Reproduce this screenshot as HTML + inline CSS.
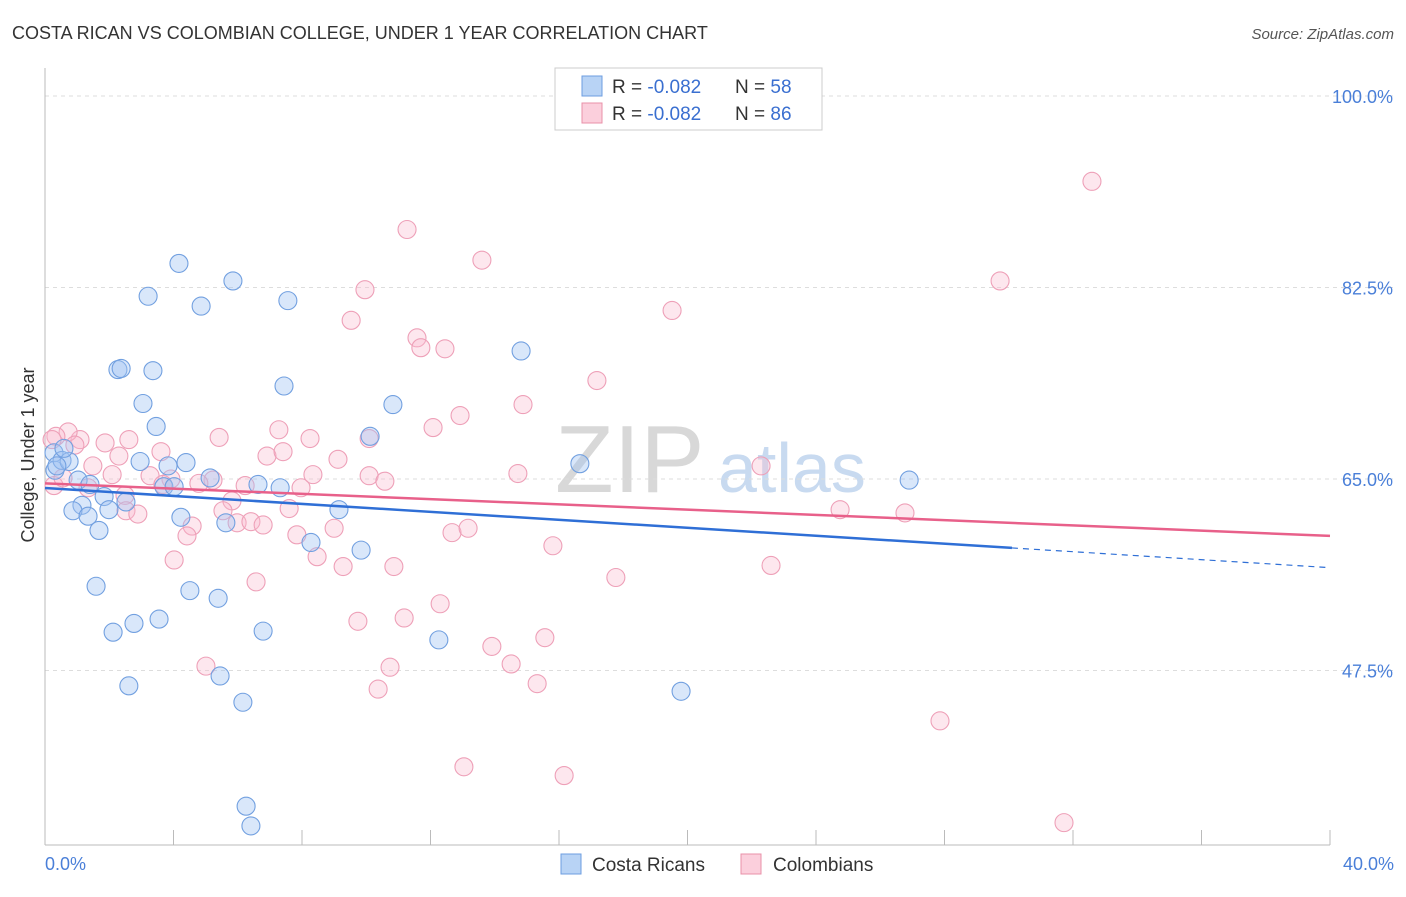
<!DOCTYPE html>
<html><head><meta charset="utf-8"><style>
body{margin:0;background:#fff;font-family:"Liberation Sans",sans-serif;}
svg text{font-family:"Liberation Sans",sans-serif;}
</style></head><body>
<svg id="chart" width="1406" height="892">
<text x="12" y="39" font-size="18" fill="#333">COSTA RICAN VS COLOMBIAN COLLEGE, UNDER 1 YEAR CORRELATION CHART</text>
<text x="1394" y="39" font-size="15" fill="#555" font-style="italic" text-anchor="end">Source: ZipAtlas.com</text>
<text x="555" y="492" font-size="96" fill="#d8d8d8" font-family="Liberation Serif,serif">ZIP</text>
<text x="718" y="492" font-size="70" fill="#c8daf0">atlas</text>
<g id="grid"></g>
<line x1="45" y1="68" x2="45" y2="845" stroke="#bbb"/>
<line x1="45" y1="845" x2="1330" y2="845" stroke="#bbb"/>
<text x="34" y="455" font-size="18" fill="#333" text-anchor="middle" transform="rotate(-90 34 455)">College, Under 1 year</text>
<text x="45" y="870" font-size="18" fill="#4a7fd8">0.0%</text>
<text x="1394" y="870" font-size="18" fill="#4a7fd8" text-anchor="end">40.0%</text>
<g id="pts"></g>
<g id="trends"></g>
<g>
<rect x="555" y="68" width="267" height="62" fill="#fff" stroke="#ccc"/>
<rect x="582" y="76" width="20" height="20" fill="#b8d3f5" stroke="#6d9ee0"/>
<text x="612" y="93" font-size="19" fill="#333">R = <tspan fill="#3a6fd0">-0.082</tspan></text>
<text x="735" y="93" font-size="19" fill="#333">N = <tspan fill="#3a6fd0">58</tspan></text>
<rect x="582" y="103" width="20" height="20" fill="#fbcfdc" stroke="#e890a8"/>
<text x="612" y="120" font-size="19" fill="#333">R = <tspan fill="#3a6fd0">-0.082</tspan></text>
<text x="735" y="120" font-size="19" fill="#333">N = <tspan fill="#3a6fd0">86</tspan></text>
</g>
<g>
<rect x="561" y="854" width="20" height="20" fill="#b8d3f5" stroke="#6d9ee0"/>
<text x="592" y="871" font-size="19" fill="#333">Costa Ricans</text>
<rect x="741" y="854" width="20" height="20" fill="#fbcfdc" stroke="#e890a8"/>
<text x="773" y="871" font-size="19" fill="#333">Colombians</text>
</g>
</svg>
<script>
const yTicks=[100,82.5,65,47.5];
const blueX=[4.17,5.85,3.21,4.86,7.56,2.27,2.37,3.36,7.44,3.05,3.46,10.83,10.12,14.82,16.65,26.9,0.28,0.31,0.53,0.75,0.59,1.03,1.40,3.83,4.39,5.14,2.96,3.70,1.84,2.52,1.15,0.87,1.34,1.99,1.68,4.23,5.63,6.63,7.32,9.15,8.28,9.84,1.59,4.51,5.39,2.12,2.77,3.55,6.79,12.26,2.61,5.45,6.16,19.8,6.26,6.41,4.02,0.37];
const blueY=[84.7,83.1,81.7,80.8,81.3,75.0,75.1,74.9,73.5,71.9,69.8,71.8,68.9,76.7,66.4,64.9,67.4,65.8,66.7,66.6,67.8,64.9,64.5,66.2,66.5,65.1,66.6,64.3,63.4,62.9,62.6,62.1,61.6,62.2,60.3,61.5,61.0,64.5,64.2,62.2,59.2,58.5,55.2,54.8,54.1,51.0,51.8,52.2,51.1,50.3,46.1,47.0,44.6,45.6,35.1,33.3,64.3,66.2];
const pinkX=[32.59,11.27,13.60,29.73,9.96,19.52,9.53,11.58,11.70,12.45,17.18,14.88,12.92,12.08,5.42,7.28,8.25,10.09,2.61,1.87,1.09,0.72,0.34,0.22,0.93,3.61,2.30,6.91,7.41,9.12,1.49,3.27,3.92,2.09,5.23,6.23,7.97,8.34,10.09,10.58,14.72,22.29,0.28,0.56,1.34,2.49,3.67,4.79,5.82,5.54,7.60,2.52,2.89,4.58,4.42,5.98,6.41,6.79,9.00,7.84,8.47,9.28,10.86,12.67,13.17,15.81,24.75,26.77,4.02,6.57,17.77,22.60,12.30,9.74,11.18,15.56,13.91,14.51,10.74,5.01,10.37,15.32,27.86,13.04,16.16,31.72];
const pinkY=[92.2,87.8,85.0,83.1,82.3,80.4,79.5,77.9,77.0,76.9,74.0,71.8,70.8,69.7,68.8,69.5,68.7,68.7,68.6,68.3,68.6,69.3,68.9,68.6,68.1,67.5,67.1,67.1,67.5,66.8,66.2,65.3,65.0,65.4,64.9,64.4,64.2,65.4,65.3,64.8,65.5,66.2,64.4,65.1,64.2,63.5,64.5,64.6,63.0,62.1,62.3,62.1,61.8,60.7,59.8,61.0,61.1,60.8,60.5,59.9,57.9,57.0,57.0,60.1,60.5,58.9,62.2,61.9,57.6,55.6,56.0,57.1,53.6,52.0,52.3,50.5,49.7,48.1,47.8,47.9,45.8,46.3,42.9,38.7,37.9,33.6];
const blueTrend=[64.18,-0.182];
const pinkTrend=[64.6,-0.12];
const NS='http://www.w3.org/2000/svg';
const X=v=>45+v*32.125, Y=v=>96+(100-v)*10.943;
function mk(tag,attrs,parent){const e=document.createElementNS(NS,tag);for(const k in attrs)e.setAttribute(k,attrs[k]);parent.appendChild(e);return e;}
const grid=document.getElementById('grid');
yTicks.forEach(t=>{
 const l=mk('line',{x1:45,x2:1394,y1:Y(t),y2:Y(t),stroke:'#ddd','stroke-dasharray':'4,4'},grid);
 
 
 const tx=mk('text',{x:1393,y:Y(t)+7,'font-size':18,fill:'#4a7fd8','text-anchor':'end'},grid);
 tx.textContent=t.toFixed(1)+'%';
 
 
});
for(let i=1;i<=10;i++){
 const l=mk('line',{x1:X(i*4),x2:X(i*4),y1:830,y2:845,stroke:'#bbb'},grid);
 
 
}
const pts=document.getElementById('pts');
pinkX.forEach((x,i)=>{
 const c=mk('circle',{cx:X(x),cy:Y(pinkY[i]),r:9,fill:'rgba(248,185,205,0.35)',stroke:'#eea0b8','stroke-width':1.1},pts);
 
 
});
blueX.forEach((x,i)=>{
 const c=mk('circle',{cx:X(x),cy:Y(blueY[i]),r:9,fill:'rgba(160,196,242,0.4)',stroke:'#72a0e0','stroke-width':1.1},pts);
 
 
});
const tr=document.getElementById('trends');
const f=(t,x)=>t[0]+t[1]*x;
let l=mk('line',{x1:X(0),y1:Y(f(pinkTrend,0)),x2:X(40),y2:Y(f(pinkTrend,40)),stroke:'#e8608a','stroke-width':2.5},tr);


l=mk('line',{x1:X(0),y1:Y(f(blueTrend,0)),x2:X(30.1),y2:Y(f(blueTrend,30.1)),stroke:'#2f6fd6','stroke-width':2.5},tr);


l=mk('line',{x1:X(30.1),y1:Y(f(blueTrend,30.1)),x2:X(40),y2:Y(f(blueTrend,40)),stroke:'#2f6fd6','stroke-width':1.2,'stroke-dasharray':'6,5'},tr);


</script>
</body></html>
